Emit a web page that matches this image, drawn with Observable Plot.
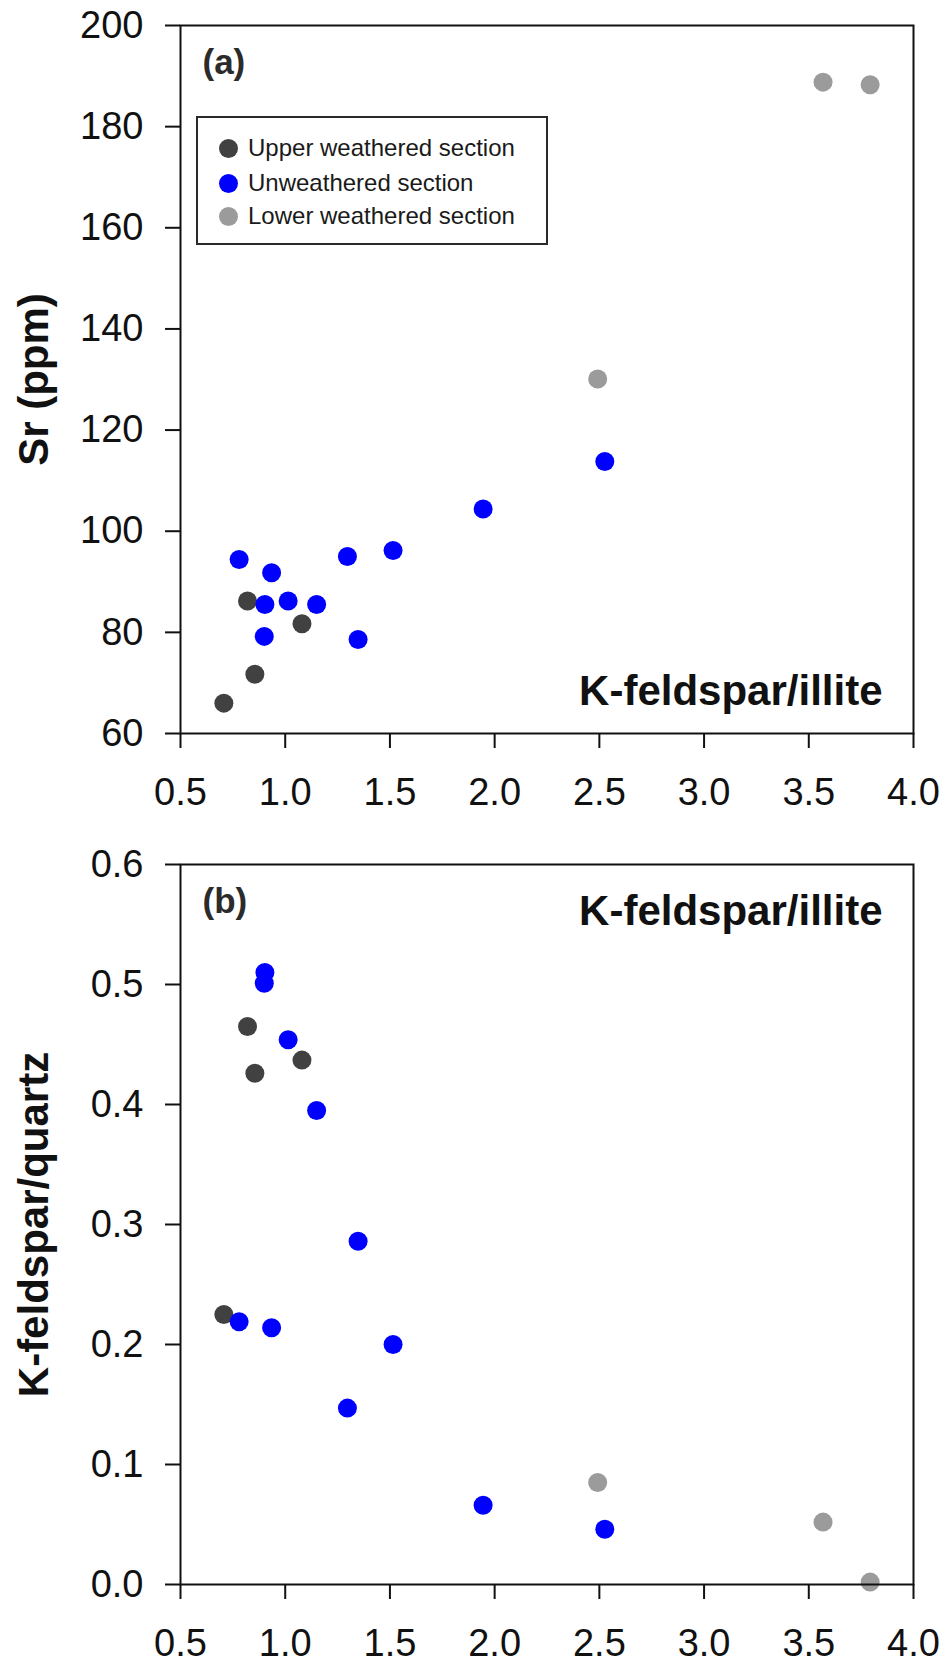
<!DOCTYPE html>
<html>
<head>
<meta charset="utf-8">
<script src="https://cdn.jsdelivr.net/npm/d3@7"></script>
<script src="https://cdn.jsdelivr.net/npm/@observablehq/plot@0.6"></script>
<style>
  html, body { margin: 0; padding: 0; background: #fff; }
  body { width: 945px; height: 1670px; position: relative; overflow: hidden;
         font-family: "Liberation Sans", Arial, Helvetica, sans-serif; }
  #panelA { position: absolute; left: 0; top: 0; }
  #panelB { position: absolute; left: 0; top: 830px; }
  #legend { position: absolute; left: 196px; top: 116px; width: 352px; height: 129px;
            box-sizing: border-box; border: 2px solid #2a2a2a; background: #fff; }
  .item { position: absolute; left: 0; width: 340px; height: 0; }
  .sw { position: absolute; left: 21px; top: -9.5px; width: 19px; height: 19px; border-radius: 50%; }
  .lab { position: absolute; left: 50px; top: -15px; white-space: nowrap; font-size: 24px;
         color: #1a1a1a; line-height: 30px; }
</style>
</head>
<body>
<div id="panelA"></div>
<div id="panelB"></div>
<div id="legend"></div>
<script>
// ---- data ----
const groups = ["Upper weathered section", "Unweathered section", "Lower weathered section"];
const groupColors = ["#414141", "#0000ff", "#9b9b9b"];

// one entry per sample
const sampleGroup = [
  "Upper weathered section", "Upper weathered section", "Upper weathered section", "Upper weathered section",
  "Unweathered section", "Unweathered section", "Unweathered section", "Unweathered section",
  "Unweathered section", "Unweathered section", "Unweathered section", "Unweathered section",
  "Unweathered section", "Unweathered section", "Unweathered section",
  "Lower weathered section", "Lower weathered section", "Lower weathered section"
];
// K-feldspar/illite ratio (x in both panels)
const kfIllite = [0.707, 0.820, 0.855, 1.080,
                  0.780, 0.935, 0.903, 0.900, 1.014, 1.150, 1.348, 1.297, 1.515, 1.945, 2.526,
                  2.492, 3.568, 3.793];
// Sr (ppm), panel (a)
const srPpm = [66.0, 86.2, 71.7, 81.7,
               94.4, 91.8, 85.5, 79.2, 86.2, 85.5, 78.6, 95.0, 96.2, 104.4, 113.8,
               130.1, 188.8, 188.3];
// K-feldspar/quartz ratio, panel (b)
const kfQuartz = [0.225, 0.465, 0.426, 0.437,
                  0.219, 0.214, 0.510, 0.501, 0.454, 0.395, 0.286, 0.147, 0.200, 0.066, 0.046,
                  0.085, 0.052, 0.002];

const xTicks = [0.5, 1.0, 1.5, 2.0, 2.5, 3.0, 3.5, 4.0];
const srTicks = [60, 80, 100, 120, 140, 160, 180, 200];
const kqTicks = [0.0, 0.1, 0.2, 0.3, 0.4, 0.5, 0.6];

const xLabel = "K-feldspar/illite";
const yLabelA = "Sr (ppm)";
const yLabelB = "K-feldspar/quartz";
const panelTags = ["(a)", "(b)"];

// ---- build ----
const rows = sampleGroup.map((g, i) => ({group: g, kfi: kfIllite[i], sr: srPpm[i], kq: kfQuartz[i]}));
const font = '"Liberation Sans", Arial, Helvetica, sans-serif';
const ink = "#111";

function panel({height, marginTop, marginBottom, yField, yDomain, yTicks, yFmt, yLabel, tag, xLabelPos}) {
  return Plot.plot({
    width: 945, height,
    marginLeft: 180, marginRight: 32, marginTop, marginBottom,
    style: {fontFamily: font, color: ink, background: "#fff", overflow: "visible"},
    x: {domain: [0.5, 4.0]},
    y: {domain: yDomain},
    color: {domain: groups, range: groupColors},
    marks: [
      Plot.axisX({ticks: xTicks, tickFormat: d => d.toFixed(1), tickSize: 15, tickPadding: 30,
                  fontSize: 38, strokeWidth: 2, stroke: ink, label: null}),
      Plot.axisY({ticks: yTicks, tickFormat: yFmt, tickSize: 15, tickPadding: 22,
                  fontSize: 38, strokeWidth: 2, stroke: ink, label: null}),
      Plot.dot(rows, {x: "kfi", y: yField, r: 9.5, fill: "group", stroke: null}),
      Plot.frame({stroke: ink, strokeWidth: 2}),
      Plot.text([tag], {text: d => d, frameAnchor: "top-left", dx: 22, dy: 24,
                        textAnchor: "start", lineAnchor: "top", fontSize: 35, fontWeight: "bold", fill: "#2b2b2b"}),
      Plot.text([xLabel], {text: d => d, frameAnchor: xLabelPos.anchor, dx: -31, dy: xLabelPos.dy,
                           textAnchor: "end", lineAnchor: "top", fontSize: 42, fontWeight: "bold", fill: ink}),
      Plot.text([yLabel], {text: d => d, frameAnchor: "left", dx: -146, rotate: -90,
                           textAnchor: "middle", lineAnchor: "middle", fontSize: 42, fontWeight: "bold", fill: ink})
    ]
  });
}

document.getElementById("panelA").append(panel({
  height: 830, marginTop: 25, marginBottom: 97,
  yField: "sr", yDomain: [60, 200], yTicks: srTicks, yFmt: d => String(d),
  yLabel: yLabelA, tag: panelTags[0], xLabelPos: {anchor: "bottom-right", dy: -58}
}));
document.getElementById("panelB").append(panel({
  height: 840, marginTop: 34, marginBottom: 86,
  yField: "kq", yDomain: [0, 0.6], yTicks: kqTicks, yFmt: d => d.toFixed(1),
  yLabel: yLabelB, tag: panelTags[1], xLabelPos: {anchor: "top-right", dy: 31}
}));

// legend (page y of each entry's centre, converted to the box's inner coordinates)
const leg = document.getElementById("legend");
const itemCentres = [148, 183, 216];
groups.forEach((g, i) => {
  const it = document.createElement("div");
  it.className = "item";
  it.style.top = (itemCentres[i] - 118) + "px";
  const sw = document.createElement("div");
  sw.className = "sw"; sw.style.background = groupColors[i];
  const lb = document.createElement("div");
  lb.className = "lab"; lb.textContent = g;
  it.append(sw, lb);
  leg.append(it);
});
</script>
</body>
</html>
